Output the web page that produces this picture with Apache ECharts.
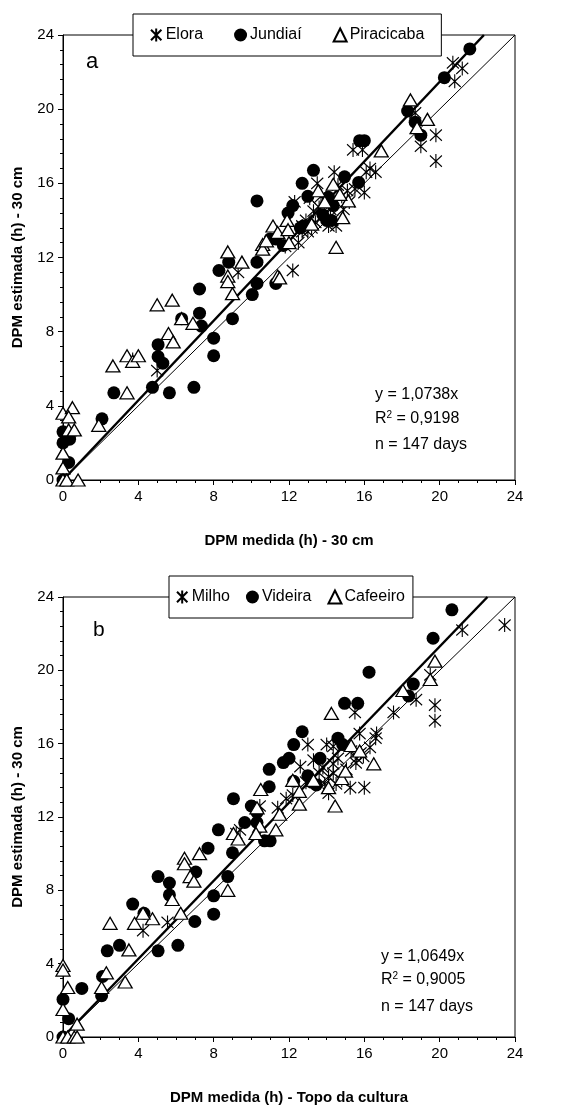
<!DOCTYPE html>
<html>
<head>
<meta charset="utf-8">
<script src="https://cdn.jsdelivr.net/npm/echarts@6/dist/echarts.min.js"></script>
<style>
html,body{margin:0;padding:0;background:#fff;}
#chart{width:576px;height:1106px;}
</style>
</head>
<body>
<div id="chart"></div>
<script>
// ---------- DATA ----------
const namesA = ['Elora', 'Jundiaí', 'Piracicaba'];
const namesB = ['Milho', 'Videira', 'Cafeeiro'];
const axisTitlesA = ['DPM medida (h) - 30 cm', 'DPM estimada (h) - 30 cm'];
const axisTitlesB = ['DPM medida (h) - Topo da cultura', 'DPM estimada (h) - 30 cm'];
const slopeA = 1.0738, r2A = '0,9198', nA = 147;
const slopeB = 1.0649, r2B = '0,9005', nB = 147;

const eloraA = [[20.7,22.5],[21.2,22.2],[20.8,21.5],[19.8,18.6],[19.8,17.2],[19.0,18.0],[18.7,19.8],[15.4,17.8],[15.9,17.8],[16.3,16.8],[16.6,16.6],[16.0,15.5],[15.5,15.7],[15.1,15.6],[14.4,16.6],[13.5,16.0],[13.3,14.5],[13.6,14.7],[13.9,14.4],[14.2,14.6],[14.0,15.0],[13.8,14.2],[12.3,15.0],[12.7,13.7],[12.7,13.4],[11.8,12.6],[12.2,11.3],[9.3,11.2],[14.5,13.7],[13.2,13.6],[13.0,13.4],[14.3,14.0],[14.8,15.3],[15.2,15.0],[14.6,15.9],[13.7,15.3],[12.9,14.0],[13.4,13.9],[5.0,5.9],[3.7,6.5],[16.1,16.6],[14.1,13.7],[12.5,12.8],[13.1,15.2],[14.9,14.6]];
const jundiaiA = [[21.6,23.25],[20.25,21.7],[18.3,19.9],[18.7,19.3],[19.0,18.6],[15.75,18.3],[16.0,18.3],[15.7,16.05],[14.95,16.35],[13.3,16.7],[12.7,16.0],[13.0,15.3],[12.2,14.8],[11.95,14.4],[14.1,15.25],[14.35,14.8],[14.0,14.0],[14.25,14.0],[12.75,13.7],[11.0,13.0],[11.3,13.0],[11.7,12.65],[10.3,15.05],[8.28,11.3],[8.8,11.75],[10.3,11.75],[10.3,10.6],[11.3,10.6],[7.25,10.3],[10.05,10.0],[7.25,9.0],[9.0,8.7],[6.3,8.7],[7.35,8.3],[8.0,7.65],[8.0,6.7],[5.05,7.3],[5.05,6.65],[5.3,6.3],[4.75,5.0],[5.65,4.7],[6.95,5.0],[2.7,4.7],[2.07,3.3],[0,2.6],[0,2.0],[0.35,2.2],[0.3,0.95],[0,0],[13.8,14.3],[12.6,13.6]];
const piracicabaA = [[18.45,20.5],[19.35,19.45],[18.8,19.0],[16.9,17.75],[14.35,15.95],[15.15,15.05],[14.85,14.15],[14.5,12.55],[13.55,15.6],[11.9,14.0],[11.15,13.7],[11.4,13.35],[10.6,12.7],[10.6,12.45],[8.75,12.3],[8.75,11.0],[9.5,11.75],[11.4,11.0],[11.95,13.5],[9.0,10.05],[8.75,10.7],[5.0,9.45],[5.8,9.7],[6.3,8.7],[6.9,8.45],[5.6,7.9],[5.85,7.45],[2.65,6.15],[3.4,6.7],[3.7,6.4],[4.0,6.7],[3.4,4.7],[1.9,2.95],[0,3.6],[0.5,3.9],[0.3,3.4],[0.3,2.7],[0.6,2.7],[0,1.45],[0,0.65],[0,0],[0.2,0],[0.8,0],[13.9,15.0],[11.5,10.9],[10.8,12.9],[12.0,12.8],[13.2,13.8],[14.7,15.4]];

const milhoB = [[23.45,22.47],[21.2,22.2],[19.75,18.1],[19.75,17.25],[19.5,19.75],[18.75,18.4],[17.55,17.7],[15.5,17.7],[16.65,16.55],[15.75,16.55],[15.95,15.3],[15.55,14.95],[16.0,13.6],[15.25,13.6],[15.05,14.6],[14.0,15.95],[13.0,15.95],[13.3,15.1],[13.6,14.4],[14.1,14.2],[14.35,14.4],[14.1,13.3],[12.6,14.75],[11.85,13.0],[11.4,12.5],[10.45,12.6],[14.35,14.9],[14.6,15.2],[14.35,15.85],[9.4,11.3],[9.2,11.1],[4.25,5.8],[5.55,6.25],[13.8,14.7],[12.2,13.2],[14.8,14.0],[15.3,15.6],[16.3,15.8],[13.9,13.8],[12.9,13.9],[14.5,13.8],[15.8,15.5],[16.6,16.3],[15.6,15.2]];
const videiraB = [[20.65,23.3],[19.65,21.75],[16.25,19.9],[18.6,19.25],[18.35,18.6],[14.95,18.2],[15.65,18.2],[12.7,16.65],[12.25,15.95],[12.0,15.2],[11.7,14.97],[10.95,14.6],[10.95,13.65],[12.25,13.95],[13.65,15.2],[14.6,16.3],[14.85,15.95],[13.0,14.25],[13.2,13.9],[13.45,13.75],[9.05,13.0],[10.0,12.6],[10.3,12.25],[9.65,11.7],[10.3,11.7],[8.25,11.3],[10.7,10.7],[11.0,10.7],[7.7,10.3],[9.0,10.05],[5.05,8.75],[5.65,8.4],[5.65,7.75],[7.05,9.0],[8.0,7.7],[8.0,6.7],[8.75,8.75],[7.0,6.3],[3.7,7.25],[4.3,6.75],[6.1,5.0],[5.05,4.7],[3.0,5.0],[2.35,4.7],[2.1,3.3],[2.05,2.25],[1.0,2.65],[0,2.05],[0.3,1.0],[0,0]];
const cafeeiroB = [[19.75,20.5],[19.5,19.5],[18.05,18.9],[14.25,17.65],[15.3,15.9],[16.5,14.9],[14.8,14.1],[14.45,12.6],[14.1,13.6],[12.2,14.0],[12.55,13.4],[12.55,12.7],[11.5,12.15],[10.5,13.5],[10.3,12.5],[10.45,11.5],[15.75,15.6],[10.25,11.1],[9.05,11.1],[9.3,10.8],[6.45,9.75],[6.45,9.45],[7.25,10.0],[6.75,8.75],[6.95,8.5],[8.75,8.0],[5.8,7.5],[6.25,6.75],[2.5,6.2],[3.8,6.2],[4.75,6.45],[4.25,6.75],[3.5,4.75],[3.3,3.0],[2.3,3.5],[2.05,2.7],[0,3.9],[0,3.65],[0.25,2.7],[0,1.5],[0.75,0.7],[0,0],[0.25,0],[0.6,0],[0.75,0],[13.3,14.0],[15.0,14.5],[11.3,11.3]];

// ---------- CHART ----------
const FONT = '"Liberation Sans", Arial, sans-serif';
const AXMAX = 24;
const asterisk = 'path://M0,-10 L0,10 M-8,-8 L8,8 M-8,8 L8,-8';

function xAxis(gi, title) {
  return {
    gridIndex: gi, type: 'value', min: 0, max: AXMAX, interval: 4,
    axisLine: {show: true, onZero: false, lineStyle: {color: '#000', width: 1}},
    axisTick: {show: true, length: 5, lineStyle: {color: '#000'}},
    minorTick: {show: true, splitNumber: 4, length: 3, lineStyle: {color: '#000'}},
    splitLine: {show: false},
    axisLabel: {color: '#000', fontSize: 15, fontFamily: FONT, margin: 9},
    name: title, nameLocation: 'middle', nameGap: 53,
    nameTextStyle: {color: '#000', fontSize: 15, fontWeight: 'bold', fontFamily: FONT}
  };
}
function yAxis(gi, title) {
  return {
    gridIndex: gi, type: 'value', min: 0, max: AXMAX, interval: 4,
    axisLine: {show: true, onZero: false, lineStyle: {color: '#000', width: 1}},
    axisTick: {show: true, length: 5, lineStyle: {color: '#000'}},
    minorTick: {show: true, splitNumber: 5, length: 3, lineStyle: {color: '#000'}},
    splitLine: {show: false},
    axisLabel: {color: '#000', fontSize: 15, fontFamily: FONT, margin: 9},
    name: title, nameLocation: 'middle', nameGap: 38,
    nameTextStyle: {color: '#000', fontSize: 15, fontWeight: 'bold', fontFamily: FONT}
  };
}
function scatter(name, data, idx, kind) {
  const s = {
    name: name, type: 'scatter', xAxisIndex: idx, yAxisIndex: idx, data: data,
    animation: false, z: 3
  };
  if (kind === 0) {
    s.symbol = asterisk; s.symbolSize = [12, 14];
    s.itemStyle = {color: 'rgba(0,0,0,0)', borderColor: '#000', borderWidth: 1.2, opacity: 1};
  } else if (kind === 1) {
    s.symbol = 'circle'; s.symbolSize = 13;
    s.itemStyle = {color: '#000', borderColor: '#000', borderWidth: 0, opacity: 1};
  } else {
    s.symbol = 'triangle'; s.symbolSize = [14, 12];
    s.itemStyle = {color: '#fff', borderColor: '#000', borderWidth: 1.3, opacity: 1};
  }
  return s;
}
function line(data, idx, w) {
  return {
    type: 'line', xAxisIndex: idx, yAxisIndex: idx, data: data,
    showSymbol: false, symbol: 'none', silent: true, animation: false,
    lineStyle: {color: '#000', width: w}, z: 2
  };
}
const oneToOne = [[0, 0], [AXMAX, AXMAX]];
const fitA = [[0, 0], [AXMAX / slopeA, AXMAX]];
const fitB = [[0, 0], [AXMAX / slopeB, AXMAX]];

function legend(names, left, top, pad, gap) {
  return {
    data: names, left: left, top: top, orient: 'horizontal',
    padding: pad, itemGap: gap, itemWidth: 13, itemHeight: 13,
    borderColor: '#000', borderWidth: 1, backgroundColor: '#fff', borderRadius: 0,
    textStyle: {color: '#000', fontSize: 16, fontFamily: FONT, padding: [0, 0, 0, -2]},
    selectedMode: false, z: 10
  };
}
function eqText(x, c1, c2, c3, slope, r2, n) {
  const sl = slope.toFixed(4).replace('.', ',');
  const base = {fill: '#000', fontSize: 16, fontFamily: FONT, verticalAlign: 'middle', align: 'left'};
  return [
    {type: 'text', left: x, top: c1 - 7, style: Object.assign({text: 'y = ' + sl + 'x'}, base), z: 20},
    {type: 'text', left: x, top: c2 - 10, style: Object.assign({
      text: 'R{s|2} = ' + r2,
      rich: {s: {fontSize: 10, verticalAlign: 'top', padding: [0, 0, 8, 0], fontFamily: FONT, fill: '#000'}}
    }, base), z: 20},
    {type: 'text', left: x, top: c3 - 7, style: Object.assign({text: 'n = ' + n + ' days'}, base), z: 20}
  ];
}

const chart = echarts.init(document.getElementById('chart'), null, {renderer: 'canvas'});
chart.setOption({
  backgroundColor: '#fff',
  animation: false,
  grid: [
    {left: 63, width: 452, top: 35, height: 445, show: true, borderColor: '#000', borderWidth: 1, backgroundColor: 'transparent'},
    {left: 63, width: 452, top: 597, height: 445, show: true, borderColor: '#000', borderWidth: 1, backgroundColor: 'transparent'}
  ],
  xAxis: [xAxis(0, axisTitlesA[0]), xAxis(1, axisTitlesB[0])],
  yAxis: [yAxis(0, axisTitlesA[1]), yAxis(1, axisTitlesB[1])],
  legend: [
    legend(namesA, 133, 14, [13, 17, 13, 17], 31),
    legend(namesB, 169, 576, [13, 8, 13, 7], 16)
  ],
  series: [
    line(oneToOne, 0, 1), line(fitA, 0, 2.5),
    scatter(namesA[0], eloraA, 0, 0),
    scatter(namesA[1], jundiaiA, 0, 1),
    scatter(namesA[2], piracicabaA, 0, 2),
    line(oneToOne, 1, 1), line(fitB, 1, 2.5),
    scatter(namesB[0], milhoB, 1, 0),
    scatter(namesB[1], videiraB, 1, 1),
    scatter(namesB[2], cafeeiroB, 1, 2)
  ],
  graphic: [
    {type: 'text', left: 86, top: 51, style: {text: 'a', fill: '#000', fontSize: 22, fontFamily: FONT}, z: 20},
    {type: 'text', left: 93, top: 620, style: {text: 'b', fill: '#000', fontSize: 21, fontFamily: FONT}, z: 20}
  ].concat(eqText(375, 394, 420, 444, slopeA, r2A, nA)).concat(eqText(381, 956, 981, 1006, slopeB, r2B, nB))
});
</script>
</body>
</html>
